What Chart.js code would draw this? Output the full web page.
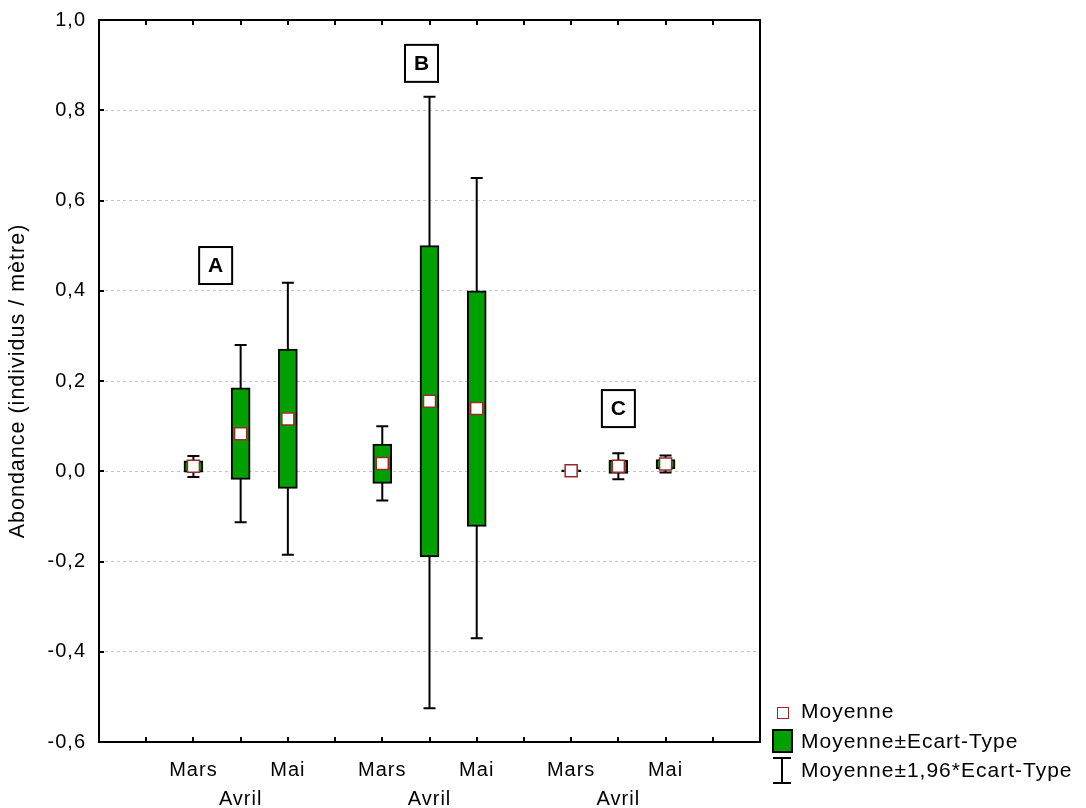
<!DOCTYPE html>
<html>
<head>
<meta charset="utf-8">
<script src="https://cdn.jsdelivr.net/npm/chart.js@4.4.1/dist/chart.umd.min.js"></script>
<style>
  body { margin: 0; background: #fff; }
  canvas { display: block; }
</style>
</head>
<body>
<canvas id="boxChart" width="1086" height="808"></canvas>
<script>
    // ---------------- Data ----------------
    const categories = ['Mars', 'Avril', 'Mai', 'Mars', 'Avril', 'Mai', 'Mars', 'Avril', 'Mai'];
    const positions = [2, 3, 4, 6, 7, 8, 10, 11, 12];
    const means = [0.011, 0.083, 0.116, 0.017, 0.155, 0.139, 0.001, 0.011, 0.016];
    const boxLow = [-0.002, -0.018, -0.038, -0.027, -0.190, -0.122, -0.001, -0.005, 0.005];
    const boxHigh = [0.023, 0.185, 0.271, 0.060, 0.500, 0.400, 0.003, 0.025, 0.026];
    const whiskerLow = [-0.013, -0.113, -0.185, -0.065, -0.525, -0.370, -0.003, -0.018, -0.003];
    const whiskerHigh = [0.034, 0.280, 0.418, 0.100, 0.830, 0.650, 0.005, 0.040, 0.035];

    const groupLabels = ['A', 'B', 'C'];
    const groupLabelX = [2.46, 6.82, 10.99];
    const groupLabelY = [0.457, 0.905, 0.14];

    const FONT = "'Liberation Sans', Arial, sans-serif";
    const GREEN = '#00a000';
    const MEAN_BORDER = '#9a2a2a';

    const fmt = v => Math.abs(v) < 1e-9 ? '0,0' : v.toFixed(1).replace('.', ',');

    // ---------------- Plugins ----------------
    const spacing = {
        id: 'spacing',
        beforeUpdate(chart) { chart.ctx.letterSpacing = '1px'; },
        beforeDraw(chart) { chart.ctx.letterSpacing = '1px'; }
    };

    const whiskers = {
        id: 'whiskers',
        beforeDatasetsDraw(chart) {
            const { ctx, scales: { x, y } } = chart;
            ctx.save();
            ctx.strokeStyle = '#000';
            ctx.lineWidth = 2;
            positions.forEach((p, i) => {
                const px = x.getPixelForValue(p);
                const lo = y.getPixelForValue(whiskerLow[i]);
                const hi = y.getPixelForValue(whiskerHigh[i]);
                ctx.beginPath();
                ctx.moveTo(px, lo); ctx.lineTo(px, hi);
                ctx.moveTo(px - 6, lo); ctx.lineTo(px + 6, lo);
                ctx.moveTo(px - 6, hi); ctx.lineTo(px + 6, hi);
                ctx.stroke();
            });
            ctx.restore();
        }
    };

    const frame = {
        id: 'frame',
        afterDraw(chart) {
            const { ctx, chartArea: a, scales: { x, y } } = chart;
            ctx.save();
            ctx.letterSpacing = '0px';
            ctx.strokeStyle = '#000';
            ctx.lineWidth = 2;
            ctx.strokeRect(a.left, a.top, a.right - a.left, a.bottom - a.top);
            ctx.beginPath();
            x.ticks.forEach(t => {
                const px = Math.round(x.getPixelForValue(t.value));
                if (px <= a.left + 1 || px >= a.right - 1) return;
                ctx.moveTo(px, a.bottom); ctx.lineTo(px, a.bottom - 5);
                ctx.moveTo(px, a.top); ctx.lineTo(px, a.top + 5);
            });
            y.ticks.forEach(t => {
                const py = Math.round(y.getPixelForValue(t.value));
                ctx.moveTo(a.left, py); ctx.lineTo(a.left + 5, py);
            });
            ctx.stroke();

            // group letters
            ctx.font = 'bold 21px ' + FONT;
            ctx.textAlign = 'center';
            ctx.textBaseline = 'middle';
            groupLabels.forEach((g, i) => {
                const px = x.getPixelForValue(groupLabelX[i]);
                const py = y.getPixelForValue(groupLabelY[i]);
                ctx.fillStyle = '#fff';
                ctx.fillRect(px - 16, py - 18, 33, 37);
                ctx.strokeRect(px - 16, py - 18, 33, 37);
                ctx.fillStyle = '#000';
                ctx.fillText(g, px + 0.5, py + 1);
            });

            // legend
            ctx.letterSpacing = '1px';
            ctx.font = '21px ' + FONT;
            ctx.textAlign = 'left';
            ctx.fillStyle = '#fff';
            ctx.lineWidth = 1;
            ctx.strokeStyle = MEAN_BORDER;
            ctx.fillRect(777.5, 707.5, 11, 11);
            ctx.strokeRect(777.5, 707.5, 11, 11);
            ctx.fillStyle = GREEN;
            ctx.strokeStyle = '#000';
            ctx.lineWidth = 2;
            ctx.fillRect(773, 730, 19, 22);
            ctx.strokeRect(773, 730, 19, 22);
            ctx.beginPath();
            ctx.moveTo(782, 758); ctx.lineTo(782, 783);
            ctx.moveTo(773, 758); ctx.lineTo(791, 758);
            ctx.moveTo(773, 783); ctx.lineTo(791, 783);
            ctx.stroke();
            ctx.fillStyle = '#000';
            ctx.fillText('Moyenne', 801, 712);
            ctx.fillText('Moyenne\u00b1Ecart-Type', 801, 742);
            ctx.fillText('Moyenne\u00b11,96*Ecart-Type', 801, 771);
            ctx.restore();
        }
    };

    // ---------------- Chart ----------------
    const ctx = document.getElementById('boxChart').getContext('2d');
    new Chart(ctx, {
        type: 'bar',
        data: {
            datasets: [
                {
                    type: 'scatter',
                    label: 'Moyenne',
                    data: positions.map((p, i) => ({ x: p, y: means[i] })),
                    pointStyle: 'rect',
                    pointRadius: 8.5,
                    pointBackgroundColor: '#fff',
                    pointBorderColor: MEAN_BORDER,
                    pointBorderWidth: 1.5,
                    order: 1
                },
                {
                    type: 'bar',
                    label: 'Moyenne\u00b1Ecart-Type',
                    data: positions.map((p, i) => ({ x: p, y: [boxLow[i], boxHigh[i]] })),
                    backgroundColor: GREEN,
                    borderColor: '#000',
                    borderWidth: 2,
                    borderSkipped: false,
                    barThickness: 19,
                    order: 2
                }
            ]
        },
        options: {
            responsive: false,
            animation: false,
            layout: { padding: { left: 0, top: 20, right: 326, bottom: 0 } },
            plugins: {
                legend: { display: false },
                tooltip: { enabled: false }
            },
            scales: {
                x: {
                    type: 'linear',
                    min: 0,
                    max: 14,
                    offset: false,
                    grid: { display: false },
                    border: { display: false },
                    afterFit: s => { s.height = 66; s.paddingLeft = 0; s.paddingRight = 0; },
                    ticks: {
                        stepSize: 1,
                        autoSkip: false,
                        maxRotation: 0,
                        padding: 6,
                        color: '#000',
                        font: { family: FONT, size: 20, lineHeight: 1.45 },
                        callback: v => {
                            const i = positions.indexOf(v);
                            if (i < 0) return '';
                            return i % 3 === 1 ? ['', categories[i]] : [categories[i], ''];
                        }
                    }
                },
                y: {
                    min: -0.6,
                    max: 1.0,
                    afterFit: s => { s.width = 99; s.paddingTop = 0; s.paddingBottom = 0; },
                    grid: { color: '#c4c4c4', drawTicks: false, lineWidth: 1 },
                    border: { display: false, dash: [3, 3] },
                    ticks: {
                        stepSize: 0.2,
                        padding: 13,
                        color: '#000',
                        font: { family: FONT, size: 20 },
                        callback: v => fmt(v)
                    },
                    title: {
                        display: true,
                        text: 'Abondance (individus / m\u00e8tre)',
                        color: '#000',
                        font: { family: FONT, size: 21.5 },
                        padding: { top: 5, bottom: 0 }
                    }
                }
            }
        },
        plugins: [spacing, whiskers, frame]
    });
</script>
</body>
</html>
